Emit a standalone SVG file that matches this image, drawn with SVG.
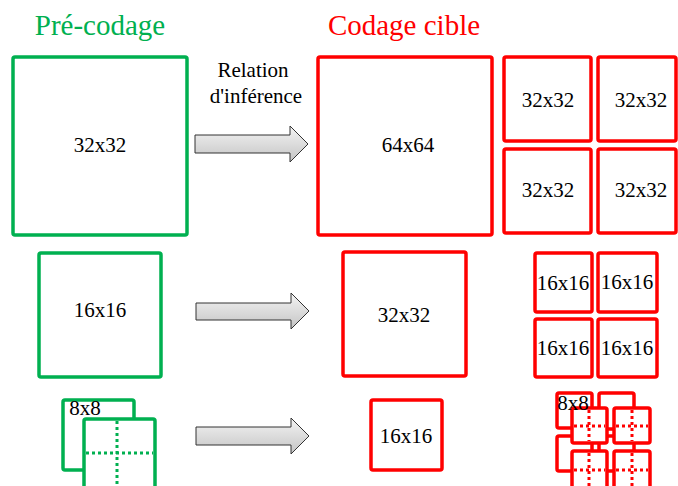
<svg xmlns="http://www.w3.org/2000/svg" width="678" height="486" viewBox="0 0 678 486">
<defs>
<linearGradient id="ag" x1="0" y1="0" x2="0" y2="1">
<stop offset="0" stop-color="#f4f4f4"/>
<stop offset="1" stop-color="#c4c4c4"/>
</linearGradient>
</defs>
<style>
text{font-family:"Liberation Serif","Times New Roman",serif;fill:#000;text-anchor:middle}
.t{font-size:21px}
.h{font-size:29px}
text.hg{fill:#00B050}
text.hr{fill:#FF0000}
.g{fill:#fff;stroke:#00B050;stroke-width:3.5}
.r{fill:#fff;stroke:#FF0000;stroke-width:3.5}
.gd{stroke:#00B050;stroke-width:3;stroke-dasharray:3 3;fill:none}
.rd{stroke:#FF0000;stroke-width:3;stroke-dasharray:3 3;fill:none}
.arr{fill:url(#ag);stroke:#333;stroke-width:1}
</style>
<rect width="678" height="486" fill="#fff"/>
<text class="h hg" x="100" y="35">Pré-codage</text>
<text class="h hr" x="404" y="35">Codage cible</text>
<text class="t" x="253" y="77">Relation</text>
<text class="t" x="256" y="103">d'inférence</text>

<g id="connectors">
<path class="arr" d="M195,135 H290 V126 L308,144 L290,162 V153 H195 Z"/>
<path class="arr" d="M196,303 H291 V293 L309,311 L291,329 V320 H196 Z"/>
<path class="arr" d="M196,427 H291 V418 L309,436 L291,454 V445 H196 Z"/>
</g>

<g id="pre32">
<rect class="g" x="13" y="57" width="174" height="178" rx="2"/>
<text class="t" x="100" y="152">32x32</text>
</g>
<g id="pre16">
<rect class="g" x="39" y="253" width="122" height="124" rx="2"/>
<text class="t" x="100" y="317">16x16</text>
</g>
<g id="pre8">
<rect class="g" x="63" y="400" width="71" height="70" rx="2"/>
<text class="t" x="85" y="415">8x8</text>
<rect class="g" x="84" y="419" width="71" height="80" rx="2"/>
<line class="gd" x1="117" y1="421" x2="117" y2="486"/>
<line class="gd" x1="86" y1="453" x2="153" y2="453"/>
</g>

<g id="cib64">
<rect class="r" x="318" y="57" width="174" height="178" rx="2"/>
<text class="t" x="408" y="152">64x64</text>
</g>
<g id="cib32q">
<rect class="r" x="504" y="57" width="87" height="84" rx="2"/>
<text class="t" x="548" y="107">32x32</text>
<rect class="r" x="598" y="57" width="78" height="84" rx="2"/>
<text class="t" x="641" y="107">32x32</text>
<rect class="r" x="504" y="149" width="87" height="84" rx="2"/>
<text class="t" x="548" y="197">32x32</text>
<rect class="r" x="598" y="149" width="78" height="84" rx="2"/>
<text class="t" x="641" y="197">32x32</text>
</g>
<g id="cib32">
<rect class="r" x="343" y="252" width="123" height="124" rx="2"/>
<text class="t" x="404" y="322">32x32</text>
</g>
<g id="cib16q">
<rect class="r" x="535" y="253" width="57" height="59" rx="2"/>
<text class="t" x="563" y="290">16x16</text>
<rect class="r" x="598" y="253" width="59" height="59" rx="2"/>
<text class="t" x="627" y="289">16x16</text>
<rect class="r" x="535" y="319" width="57" height="58" rx="2"/>
<text class="t" x="563" y="355">16x16</text>
<rect class="r" x="598" y="319" width="59" height="58" rx="2"/>
<text class="t" x="627" y="355">16x16</text>
</g>
<g id="cib16">
<rect class="r" x="371" y="400" width="71" height="70" rx="2"/>
<text class="t" x="406" y="443">16x16</text>
</g>
<g id="cib8">
<rect class="r" x="557" y="393" width="35" height="35" rx="2"/>
<rect class="r" x="599" y="393" width="35" height="36" rx="2"/>
<rect class="r" x="557" y="436" width="35" height="35" rx="2"/>
<rect class="r" x="599" y="436" width="35" height="35" rx="2"/>
<rect class="r" x="572" y="408" width="35" height="35" rx="2"/>
<line class="rd" x1="589" y1="410" x2="589" y2="441"/>
<line class="rd" x1="574" y1="426" x2="605" y2="426"/>
<rect class="r" x="614" y="408" width="36" height="35" rx="2"/>
<line class="rd" x1="632" y1="410" x2="632" y2="441"/>
<line class="rd" x1="616" y1="426" x2="648" y2="426"/>
<rect class="r" x="572" y="451" width="35" height="40" rx="2"/>
<line class="rd" x1="589" y1="453" x2="589" y2="486"/>
<line class="rd" x1="574" y1="470" x2="605" y2="470"/>
<rect class="r" x="614" y="451" width="36" height="40" rx="2"/>
<line class="rd" x1="632" y1="453" x2="632" y2="486"/>
<line class="rd" x1="616" y1="470" x2="648" y2="470"/>
<text class="t" x="573" y="410">8x8</text>
</g>
</svg>
